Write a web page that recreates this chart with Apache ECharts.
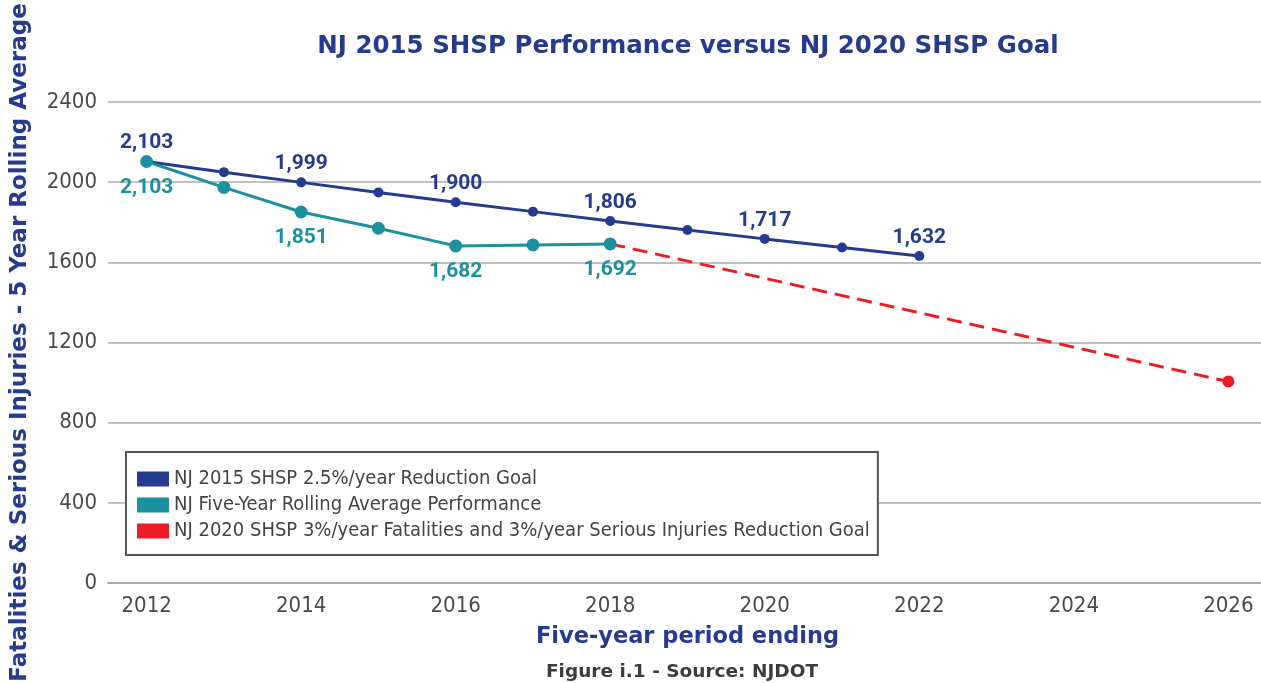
<!DOCTYPE html>
<html>
<head>
<meta charset="utf-8">
<script src="https://cdn.jsdelivr.net/npm/echarts@6/dist/echarts.min.js"></script>
<style>
  html, body { margin: 0; padding: 0; background: #fff; }
  #chart { width: 1261px; height: 683px; }
</style>
</head>
<body>
<div id="chart"></div>
<script>
// categories (five-year period ending)
var years = ['2012','2013','2014','2015','2016','2017','2018','2019','2020','2021','2022','2023','2024','2025','2026'];
// NJ 2015 SHSP 2.5%/year goal
var goal2015 = [2103, 2050, 1999, 1949, 1900, 1853, 1806, 1761, 1717, 1674, 1632, null, null, null, null];
// five-year rolling average performance
var performance = [2103, 1974, 1851, 1770, 1682, 1687, 1692, null, null, null, null, null, null, null, null];
// NJ 2020 SHSP goal (2018 start -> 2026 end)
var goal2020 = [null, null, null, null, null, null, 1692, null, null, null, null, null, null, null, 1005];
var yTicks = [0, 400, 800, 1200, 1600, 2000, 2400];

var seriesNames = [
  'NJ 2015 SHSP 2.5%/year Reduction Goal',
  'NJ Five-Year Rolling Average Performance',
  'NJ 2020 SHSP 3%/year Fatalities and 3%/year Serious Injuries Reduction Goal'
];

var BLUE = '#263b8e';
var TEAL = '#1b909e';
var RED = '#ec1c24';
var narrow = "'Liberation Sans Narrow', 'DejaVu Sans Condensed', sans-serif";
var wide = "'DejaVu Sans', sans-serif";

function fmt(p) {
  // label only the even years
  if (p.dataIndex % 2 !== 0 || p.value == null) return '';
  return Number(p.value).toLocaleString('en-US');
}

var chart = echarts.init(document.getElementById('chart'));
chart.setOption({
  animation: false,
  grid: { left: 108, right: -6, top: 102, bottom: 100, outerBoundsMode: 'none', containLabel: false },
  graphic: [
    {
      type: 'text',
      style: {
        x: 688, y: 47, text: 'NJ 2015 SHSP Performance versus NJ 2020 SHSP Goal',
        fill: BLUE, font: "bold 24.5px " + wide,
        textAlign: 'center', textVerticalAlign: 'middle'
      }
    },
    {
      type: 'text',
      style: {
        x: 682, y: 672, text: 'Figure i.1 - Source: NJDOT',
        fill: '#3c3c3c', font: "bold 18.5px " + wide,
        textAlign: 'center', textVerticalAlign: 'middle'
      }
    }
  ],
  legend: {
    orient: 'vertical',
    left: 126, top: 452,
    icon: 'rect',
    itemWidth: 32, itemHeight: 15, itemGap: 6,
    padding: [17, 8, 14, 11],
    backgroundColor: '#fff',
    borderColor: '#555', borderWidth: 2,
    textStyle: { fontFamily: narrow, fontSize: 20, color: '#444' },
    data: seriesNames
  },
  xAxis: {
    type: 'category',
    data: years,
    boundaryGap: true,
    name: 'Five-year period ending',
    nameLocation: 'middle',
    nameGap: 43,
    nameTextStyle: { color: BLUE, fontFamily: wide, fontWeight: 'bold', fontSize: 22.5 },
    axisLine: { lineStyle: { color: '#aaa', width: 2 } },
    axisTick: { show: false },
    axisLabel: {
      interval: 1, margin: 12,
      color: '#4a4a4a', fontFamily: narrow, fontSize: 22
    }
  },
  yAxis: {
    type: 'value',
    min: 0, max: 2400, interval: 400,
    name: 'Fatalities & Serious Injuries - 5 Year Rolling Average',
    nameLocation: 'middle',
    nameGap: 76,
    nameTextStyle: { color: BLUE, fontFamily: wide, fontWeight: 'bold', fontSize: 23 },
    axisLine: { show: false },
    axisTick: { show: false },
    axisLabel: {
      margin: 11,
      color: '#4a4a4a', fontFamily: narrow, fontSize: 22,
      formatter: function (v) { return yTicks.indexOf(v) >= 0 ? String(v) : ''; }
    },
    splitLine: { lineStyle: { color: '#ababab', width: 1.5 } }
  },
  series: [
    {
      name: seriesNames[0],
      type: 'line',
      data: goal2015,
      z: 2,
      symbol: 'circle', symbolSize: 10,
      itemStyle: { color: BLUE },
      lineStyle: { color: BLUE, width: 3 },
      label: {
        show: true, position: 'top', distance: 3,
        formatter: fmt,
        color: BLUE, fontFamily: 'Roboto, sans-serif', fontWeight: 'bold', fontSize: 21
      }
    },
    {
      name: seriesNames[1],
      type: 'line',
      data: performance,
      z: 4,
      symbol: 'circle', symbolSize: 13,
      itemStyle: { color: TEAL },
      lineStyle: { color: TEAL, width: 3 },
      label: {
        show: true, position: 'bottom', distance: 9,
        formatter: fmt,
        color: TEAL, fontFamily: 'Roboto, sans-serif', fontWeight: 'bold', fontSize: 21
      }
    },
    {
      name: seriesNames[2],
      type: 'line',
      data: goal2020.map(function (v, i) {
        return i === 6 ? { value: v, symbol: 'none' } : v;
      }),
      z: 3,
      connectNulls: true,
      symbol: 'circle', symbolSize: 12,
      itemStyle: { color: RED },
      lineStyle: { color: RED, width: 3, type: [15, 8] }
    }
  ]
});
</script>
</body>
</html>
